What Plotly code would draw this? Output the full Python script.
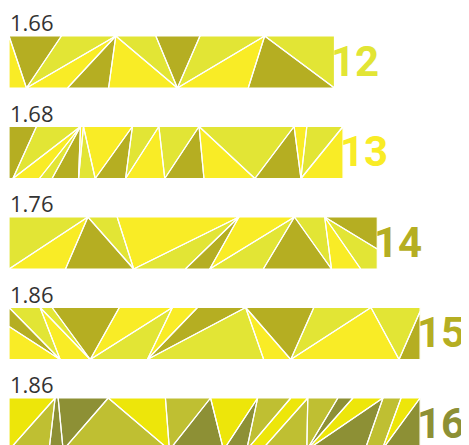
import plotly.graph_objects as go

# ---------------- data ----------------
values = [1.66, 1.68, 1.76, 1.86, 1.86]
value_labels = ["1.66", "1.68", "1.76", "1.86", "1.86"]
tags = ["12", "13", "14", "15", "16"]

# ---------------- style ----------------
AXIS_START = 0.8995          # value where bars begin
PX_PER_UNIT = 428.0
PAGE_OFFSET = 8              # the page body margin around the figure
LEFT_PX = 9 - PAGE_OFFSET
W, H = 469 - PAGE_OFFSET, 445 - PAGE_OFFSET
ROW0_CENTER = 62 - PAGE_OFFSET
BAR_HALF = 0.2873            # half bar thickness (row units)

pal_a = ["#B5AE22", "#E2E535", "#F9EC26"]   # dark, mid, bright
pal_b = ["#8D9035", "#BFBF32", "#EDE60A"]
row_palettes = [pal_a, pal_a, pal_a, pal_a, pal_b]
tag_colors = ["#E2E535", "#F9EC26", "#B5AE22", "#B5AE22", "#8D9035"]

D, M, B = 0, 1, 2
# decorative facet pattern per row: (colour index, polygon in pattern units), width = ref length, height 52
patterns = [
    (317, [
        (B, [(0, 0), (17, 52), (0, 52)]),
        (D, [(0, 0), (51, 0), (17, 52)]),
        (M, [(51, 0), (104, 0), (17, 52)]),
        (B, [(17, 52), (104, 0), (57, 52)]),
        (D, [(57, 52), (104, 0), (97, 52)]),
        (B, [(97, 52), (104, 0), (164, 52)]),
        (M, [(104, 0), (143, 0), (164, 52)]),
        (D, [(143, 0), (186, 0), (164, 52)]),
        (M, [(186, 0), (249, 0), (164, 52)]),
        (B, [(164, 52), (249, 0), (233, 52)]),
        (D, [(233, 52), (249, 0), (317, 52)]),
        (M, [(249, 0), (317, 0), (317, 52)]),
    ]),
    (341, [
        (D, [(0, 0), (28, 0), (4, 52), (0, 52)]),
        (M, [(28, 0), (73, 0), (4, 52)]),
        (B, [(4, 52), (73, 0), (31, 52)]),
        (M, [(31, 52), (73, 0), (44, 52)]),
        (D, [(44, 52), (73, 0), (71, 52)]),
        (B, [(73, 0), (76, 0), (71, 52)]),
        (M, [(71, 52), (76, 0), (88, 52)]),
        (B, [(76, 0), (126, 0), (88, 52)]),
        (D, [(88, 52), (126, 0), (119, 52)]),
        (M, [(126, 0), (153, 0), (119, 52)]),
        (B, [(119, 52), (153, 0), (159, 52)]),
        (M, [(153, 0), (194, 0), (159, 52)]),
        (D, [(159, 52), (194, 0), (199, 52)]),
        (B, [(194, 0), (199, 52), (251, 52)]),
        (M, [(194, 0), (291, 0), (251, 52)]),
        (D, [(251, 52), (291, 0), (298, 52)]),
        (B, [(291, 0), (304, 0), (298, 52)]),
        (M, [(304, 0), (341, 0), (298, 52)]),
        (B, [(298, 52), (341, 0), (341, 52)]),
    ]),
    (378, [
        (M, [(0, 0), (81, 0), (0, 52)]),
        (B, [(0, 52), (81, 0), (58, 52)]),
        (D, [(58, 52), (81, 0), (128, 52)]),
        (M, [(81, 0), (111, 0), (128, 52)]),
        (B, [(111, 0), (236, 0), (128, 52)]),
        (M, [(128, 52), (236, 0), (181, 52)]),
        (D, [(181, 52), (236, 0), (206, 52)]),
        (B, [(236, 0), (293, 0), (206, 52)]),
        (M, [(206, 52), (293, 0), (261, 52)]),
        (D, [(261, 52), (293, 0), (331, 52)]),
        (M, [(293, 0), (324, 0), (331, 52)]),
        (B, [(324, 0), (331, 52), (361, 52)]),
        (M, [(324, 0), (361, 52), (378, 52), (378, 32)]),
        (D, [(324, 0), (378, 0), (378, 32)]),
    ]),
    (410, [
        (D, [(0, 0), (51, 52), (0, 19)]),
        (M, [(0, 0), (31, 0), (51, 52)]),
        (B, [(0, 19), (51, 52), (0, 52)]),
        (B, [(31, 0), (51, 52), (81, 52)]),
        (M, [(31, 0), (43, 0), (81, 52)]),
        (D, [(43, 0), (110, 0), (81, 52)]),
        (B, [(110, 0), (163, 0), (81, 52)]),
        (M, [(81, 52), (163, 0), (138, 52)]),
        (B, [(163, 0), (188, 0), (138, 52)]),
        (D, [(188, 0), (236, 0), (138, 52)]),
        (M, [(138, 52), (236, 0), (254, 52)]),
        (B, [(236, 0), (254, 52), (281, 52)]),
        (D, [(236, 0), (304, 0), (281, 52)]),
        (M, [(304, 0), (361, 0), (281, 52)]),
        (B, [(281, 52), (361, 0), (389, 52)]),
        (M, [(361, 0), (410, 0), (410, 4), (389, 52)]),
        (D, [(389, 52), (410, 4), (410, 52)]),
    ]),
    (410, [
        (B, [(0, 0), (46, 0), (0, 52)]),
        (M, [(46, 0), (0, 52), (40, 52)]),
        (D, [(46, 0), (49, 0), (54, 52), (40, 52)]),
        (D, [(49, 0), (99, 0), (54, 52)]),
        (M, [(99, 0), (54, 52), (160, 52)]),
        (B, [(99, 0), (156, 0), (160, 52)]),
        (M, [(156, 0), (201, 0), (160, 52)]),
        (D, [(201, 0), (160, 52), (214, 52)]),
        (B, [(201, 0), (248, 0), (214, 52)]),
        (D, [(248, 0), (214, 52), (237, 52)]),
        (M, [(248, 0), (281, 0), (237, 52)]),
        (B, [(281, 0), (298, 0), (252, 52), (237, 52)]),
        (M, [(298, 0), (252, 52), (297, 52)]),
        (M, [(298, 0), (328, 0), (297, 52)]),
        (D, [(328, 0), (343, 0), (297, 52)]),
        (B, [(343, 0), (373, 0), (297, 52)]),
        (D, [(297, 52), (373, 0), (355, 52)]),
        (M, [(373, 0), (391, 0), (372, 52), (355, 52)]),
        (B, [(391, 0), (410, 0), (372, 52)]),
        (D, [(372, 52), (410, 0), (410, 52)]),
    ]),
]

rows = list(range(len(values)))
xmin = AXIS_START - LEFT_PX / PX_PER_UNIT
xmax = xmin + W / PX_PER_UNIT
row_px = 90.5
ytop = -ROW0_CENTER / row_px
ybot = ytop + H / row_px

fig = go.Figure()

# the data bars themselves
fig.add_trace(go.Bar(
    y=rows, x=[v - AXIS_START for v in values], base=AXIS_START,
    orientation="h", width=2 * BAR_HALF,
    marker=dict(color=[p[1] for p in row_palettes], line=dict(width=0)),
    hoverinfo="skip", showlegend=False,
))

outline_x, outline_y = [], []
for i, v in enumerate(values):
    ref_len, polys = patterns[i]
    length = v - AXIS_START
    for ci in range(3):
        xs, ys = [], []
        for c, poly in polys:
            if c != ci:
                continue
            for (px, py) in poly + [poly[0]]:
                xs.append(AXIS_START + px / ref_len * length)
                ys.append(i - BAR_HALF + py / 52 * 2 * BAR_HALF)
            xs.append(None)
            ys.append(None)
        fig.add_trace(go.Scatter(
            x=xs, y=ys, mode="lines", fill="toself",
            fillcolor=row_palettes[i][ci], line=dict(width=0, color=row_palettes[i][ci]),
            hoverinfo="skip", showlegend=False,
        ))
    for c, poly in polys:
        for (px, py) in poly + [poly[0]]:
            outline_x.append(AXIS_START + px / ref_len * length)
            outline_y.append(i - BAR_HALF + py / 52 * 2 * BAR_HALF)
        outline_x.append(None)
        outline_y.append(None)

fig.add_trace(go.Scatter(
    x=outline_x, y=outline_y, mode="lines",
    line=dict(color="white", width=1.2),
    hoverinfo="skip", showlegend=False,
))

annotations = []
for i, v in enumerate(values):
    annotations.append(dict(
        x=AXIS_START, y=i - BAR_HALF, xref="x", yref="y",
        text=value_labels[i], showarrow=False,
        xanchor="left", yanchor="bottom", xshift=-1, yshift=-3,
        font=dict(family="Open Sans, DejaVu Sans, sans-serif", size=22, color="#333333"),
    ))
    annotations.append(dict(
        x=v, y=i, xref="x", yref="y",
        text=tags[i], showarrow=False,
        xanchor="left", yanchor="middle", xshift=-5, yshift=1,
        font=dict(family="Roboto, sans-serif",
                  size=42, color=tag_colors[i], weight=700),
    ))

fig.update_layout(
    width=W, height=H,
    margin=dict(l=0, r=0, t=0, b=0),
    paper_bgcolor="white", plot_bgcolor="white",
    xaxis=dict(range=[xmin, xmax], visible=False, fixedrange=True),
    yaxis=dict(range=[ybot, ytop], visible=False, fixedrange=True),
    annotations=annotations,
    showlegend=False,
    barmode="overlay",
)

fig.write_html("out.html")
